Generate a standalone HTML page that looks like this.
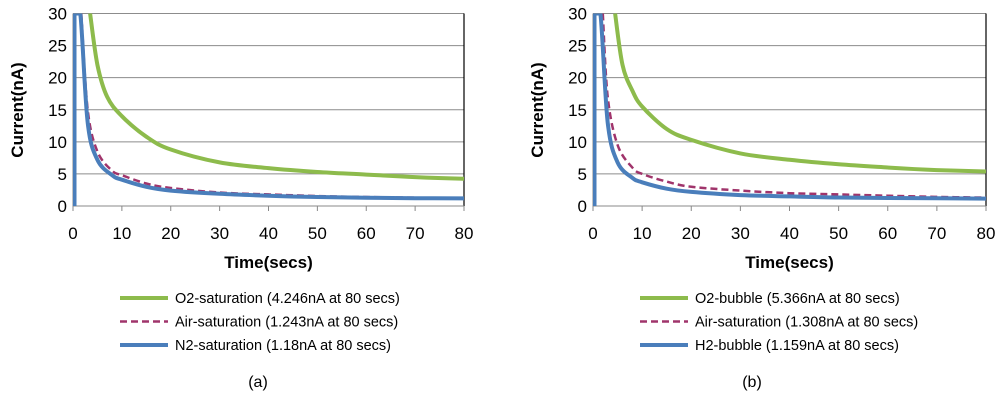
<!DOCTYPE html>
<html><head><meta charset="utf-8"><style>
body{margin:0;background:#fff;}
svg{font-family:"Liberation Sans",Arial,sans-serif;}
</style></head><body>
<svg id="c" width="1000" height="401"></svg>
<script>
const yTicks=[0,5,10,15,20,25,30];
const xTicks=[0,10,20,30,40,50,60,70,80];
const aO2X=[3.5,5,7,10,15,20,30,40,50,60,70,80];
const aO2Y=[30,22,17,14,10.8,8.8,6.8,5.9,5.3,4.9,4.5,4.25];
const aAirX=[1.7,3,5,8,10,15,20,30,40,50,60,70,80];
const aAirY=[30,15,8.5,5.5,4.8,3.5,2.8,2.1,1.8,1.55,1.4,1.3,1.24];
const aN2X=[0.3,0.3,1.5,3,5,8,10,15,20,30,40,50,60,70,80];
const aN2Y=[0,30,30,13,7.2,4.8,4.1,3,2.4,1.9,1.6,1.4,1.3,1.22,1.18];
const bO2X=[4.5,6,8,10,15,20,30,40,50,60,70,80];
const bO2Y=[30,22,18,15.5,12,10.3,8.2,7.2,6.5,6,5.6,5.37];
const bAirX=[2,3,5,8,10,15,20,30,40,50,60,70,80];
const bAirY=[30,17,9.5,6,5,3.8,3,2.4,2,1.8,1.6,1.42,1.31];
const bH2X=[0.3,0.3,1.5,3,5,8,10,15,20,30,40,50,60,70,80];
const bH2Y=[0,30,30,13,6.8,4.4,3.7,2.7,2.2,1.7,1.5,1.32,1.25,1.2,1.16];
const legA=["O2-saturation (4.246nA at 80 secs)","Air-saturation (1.243nA at 80 secs)","N2-saturation (1.18nA at 80 secs)"];
const legB=["O2-bubble (5.366nA at 80 secs)","Air-saturation (1.308nA at 80 secs)","H2-bubble (1.159nA at 80 secs)"];
const NS="http://www.w3.org/2000/svg";
const svg=document.getElementById('c');
function mk(t,a,p){const e=document.createElementNS(NS,t);for(const k in a)e.setAttribute(k,a[k]);(p||svg).appendChild(e);return e;}
const cols=["#8DBB4C","#A0346B","#4A7EBB"];
function smooth(P){
  let d='M'+P[0][0].toFixed(1)+','+P[0][1].toFixed(1);
  for(let i=0;i<P.length-1;i++){
    const p0=P[Math.max(i-1,0)],p1=P[i],p2=P[i+1],p3=P[Math.min(i+2,P.length-1)];
    if(Math.abs(p1[0]-p2[0])<0.01||Math.abs(p1[1]-p2[1])<0.01&&i<3){d+='L'+p2[0].toFixed(1)+','+p2[1].toFixed(1);continue;}
    const a=(Math.abs(p0[0]-p1[0])<0.01)?p1:p0;
    const c1=[p1[0]+(p2[0]-a[0])/6,p1[1]+(p2[1]-a[1])/6];
    const c2=[p2[0]-(p3[0]-p1[0])/6,p2[1]-(p3[1]-p1[1])/6];
    d+='C'+c1.map(v=>v.toFixed(1))+' '+c2.map(v=>v.toFixed(1))+' '+p2.map(v=>v.toFixed(1));
  }
  return d;
}
function chart(x0,x1,name,series,leg,lx,cap,capx){
  const y0=206,y1=13.5;
  const g=mk('g',{});
  
  
  const sx=v=>x0+(x1-x0)*v/80, sy=v=>y0-(y0-y1)*v/30;
  yTicks.forEach(t=>{
    if(t>0){const l=mk('line',{x1:x0,x2:x1,y1:sy(t),y2:sy(t),stroke:'#8c8c8c','stroke-width':1},g);}
    const tx=mk('text',{x:x0-6,y:sy(t)+6,'text-anchor':'end','font-size':17,fill:'#000'},g);tx.textContent=t;
    
  });
  mk('line',{x1:x1,x2:x1,y1:y1,y2:y0,stroke:'#000','stroke-width':1.2},g);
  xTicks.forEach(t=>{
    mk('line',{x1:sx(t),x2:sx(t),y1:y0,y2:y0+5,stroke:'#888'},g);
    const tx=mk('text',{x:sx(t),y:239,'text-anchor':'middle','font-size':17,fill:'#000'},g);tx.textContent=t;
    
  });
  mk('line',{x1:x0,x2:x1,y1:y0,y2:y0,stroke:'#888'},g);
  mk('line',{x1:x0,x2:x0,y1:y1,y2:y0,stroke:'#888'},g);
  const cp=mk('clipPath',{id:'cl'+name},g);mk('rect',{x:x0,y:y1,width:x1-x0+3,height:y0-y1+3},cp);
  series.forEach((s,i)=>{
    const pts=s[0].map((v,j)=>[sx(v),sy(s[1][j])]);
    const p=mk('path',{d:smooth(pts),fill:'none',stroke:cols[i],'stroke-width':i==1?2.5:4,'stroke-dasharray':i==1?'7,4':'none','stroke-linejoin':'round','clip-path':'url(#cl'+name+')'},g);
    
  });
  const yl=mk('text',{x:0,y:0,transform:`translate(${x0-50},110) rotate(-90)`,'text-anchor':'middle','font-size':17,'font-weight':'bold'},g);yl.textContent='Current(nA)';
  
  const xl=mk('text',{x:(x0+x1)/2,y:268,'text-anchor':'middle','font-size':17,'font-weight':'bold'},g);xl.textContent='Time(secs)';
  
  leg.forEach((t,i)=>{
    const y=298+i*23.5;
    mk('line',{x1:lx,x2:lx+48,y1:y,y2:y,stroke:cols[i],'stroke-width':i==1?2.5:4,'stroke-dasharray':i==1?'7,4':'none'},g);
    const tx=mk('text',{x:lx+55,y:y+5,'font-size':14.5},g);tx.textContent=t;
    
  });
  const c=mk('text',{x:capx,y:387,'text-anchor':'middle','font-size':16},g);c.textContent=cap;
  
}
chart(73,464,'chart-a',[[aO2X,aO2Y],[aAirX,aAirY],[aN2X,aN2Y]],legA,120,'(a)',258);
chart(593,986,'chart-b',[[bO2X,bO2Y],[bAirX,bAirY],[bH2X,bH2Y]],legB,640,'(b)',752);
</script>
</body></html>
